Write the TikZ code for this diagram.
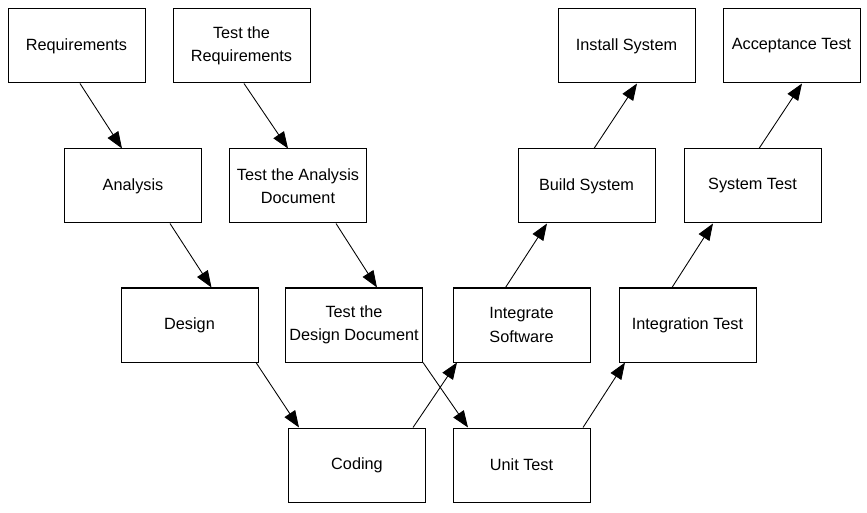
\documentclass[tikz,border=0pt]{standalone}
\usepackage{fontspec}
\setmainfont{Liberation Sans}
\usepackage{tikz}
\usetikzlibrary{calc}
\usetikzlibrary{arrows.meta}

\begin{document}
\begin{tikzpicture}[x=0.75pt,y=-0.75pt,
  phase/.style={draw, line width=0.75pt, minimum width=102.75pt, minimum height=55.5pt,
    inner sep=0pt, align=center, font=\fontsize{12.2pt}{17.5pt}\selectfont},
  flow/.style={line width=0.65pt, -{Triangle[length=12.5pt,width=9.5pt]}}]
\useasboundingbox (0,0) rectangle (867,513);
% left side of the V
\node[phase] (req) at (76.5,46) {Requirements};
\node[phase] (ana) at (133,186) {Analysis};
\node[phase] (design) at (189.5,325) {Design};
\node[phase] (coding) at (357,465) {Coding};
% tests written alongside
\node[phase] (treq) at (241.5,46) {Test the\\Requirements};
\node[phase] (tana) at (298,186) {Test the Analysis\\Document};
\node[phase] (tdes) at (354,325) {Test the\\Design Document};
\node[phase] (unit) at (521.5,465) {Unit Test};
% right side of the V
\node[phase] (integ) at (521.5,325) {Integrate\\Software};
\node[phase] (build) at (586.5,186) {Build System};
\node[phase] (inst) at (626.5,46) {Install System};
\node[phase] (itest) at (687.5,325) {Integration Test};
\node[phase] (systest) at (752.5,186) {System Test};
\node[phase] (acc) at (791.5,46) {Acceptance Test};

\draw[flow] ($(req.south)+(3.5,0)$) -- ($(ana.north)+(-11,0)$);
\draw[flow] ($(treq.south)+(2.5,0)$) -- ($(tana.north)+(-10,0)$);
\draw[flow] ($(ana.south)+(37,0)$) -- ($(design.north)+(22,0)$);
\draw[flow] ($(tana.south)+(38,0)$) -- ($(tdes.north)+(23,0)$);
\draw[flow] ($(design.south)+(66.5,0)$) -- ($(coding.north)+(-58,0)$);
\draw[flow] ($(tdes.south)+(69,0)$) -- ($(unit.north)+(-53.5,0)$);
\draw[flow] ($(coding.north)+(56,0)$) -- ($(integ.south)+(-64.5,0)$);
\draw[flow] ($(unit.north)+(61.5,0)$) -- ($(itest.south)+(-62.5,0)$);
\draw[flow] ($(integ.north)+(-16,0)$) -- ($(build.south)+(-39.5,0)$);
\draw[flow] ($(itest.north)+(-15.5,0)$) -- ($(systest.south)+(-39.5,0)$);
\draw[flow] ($(build.north)+(7.5,0)$) -- ($(inst.south)+(10.5,0)$);
\draw[flow] ($(systest.north)+(6.5,0)$) -- ($(acc.south)+(10.5,0)$);
\end{tikzpicture}
\end{document}
